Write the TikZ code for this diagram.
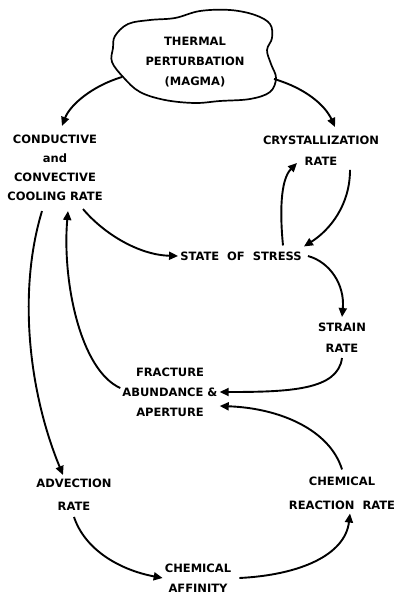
\documentclass[tikz,border=0pt]{standalone}
\usepackage{fontspec}
\setsansfont{DejaVu Sans}
\usepackage{tikz}
\usetikzlibrary{arrows.meta}

\begin{document}
\begin{tikzpicture}[x=1pt, y=-1pt,
  etiqueta/.style={font=\sffamily\bfseries\fontsize{11.5}{21}\selectfont, align=center, inner sep=2pt},
  flecha/.style={line width=1.9pt, -{Triangle[length=9pt,width=8pt]}}]
  \useasboundingbox (0,0) rectangle (398,592);

  % Perturbacion termica (nube)
  \draw[line width=1.7pt] plot[smooth cycle, tension=0.6] coordinates {
    (115,36) (128,24) (150,20) (175,18) (200,11) (230,10) (255,15) (270,24)
    (272,38) (267,50) (271,64) (276,78) (270,92) (250,99) (220,101) (195,103)
    (165,100) (140,92) (124,78) (112,62) (113,48)};
  \coordinate (bsw) at (122,77);
  \coordinate (bse) at (274,79);
  \node[etiqueta, font=\sffamily\bfseries\fontsize{11.5}{20}\selectfont] (magma) at (195,62) {THERMAL\\PERTURBATION\\(MAGMA)};

  % Etiquetas
  \node[etiqueta, font=\sffamily\bfseries\fontsize{11.5}{19}\selectfont] (cool) at (55,168) {CONDUCTIVE\\and\\CONVECTIVE\\COOLING RATE};
  \node[etiqueta] (cryst) at (321,151) {CRYSTALLIZATION\\RATE};
  \node[etiqueta] (stress) at (241,256) {STATE~~OF~~STRESS};
  \node[etiqueta] (strain) at (342,338) {STRAIN\\RATE};
  \node[etiqueta, font=\sffamily\bfseries\fontsize{11.5}{20}\selectfont] (fract) at (170,392) {FRACTURE\\ABUNDANCE \&\\APERTURE};
  \node[etiqueta, font=\sffamily\bfseries\fontsize{11.5}{23}\selectfont] (advec) at (74,495) {ADVECTION\\RATE};
  \node[etiqueta, font=\sffamily\bfseries\fontsize{11.5}{24}\selectfont] (react) at (342,493) {CHEMICAL\\REACTION~~RATE};
  \node[etiqueta, font=\sffamily\bfseries\fontsize{11.5}{20}\selectfont] (affin) at (198,578) {CHEMICAL\\AFFINITY};

  % Flechas desde la nube
  \draw[flecha] (bsw) .. controls (92,86) and (70,105) .. ([xshift=7,yshift=7]cool.north);
  \draw[flecha] (bse) .. controls (305,88) and (325,105) .. ([xshift=14,yshift=7]cryst.north);

  % Ciclo de esfuerzos
  \draw[flecha] ([xshift=28,yshift=-6]cool.south) .. controls (105,235) and (140,255) .. (stress.west);
  \draw[flecha] ([xshift=29,yshift=-2]cryst.south) .. controls (350,205) and (330,230) .. ([yshift=3]stress.north east);
  \draw[flecha] ([xshift=42,yshift=4]stress.north) .. controls (280,215) and (280,180) .. ([xshift=-24,yshift=5]cryst.south);
  \draw[flecha] ([xshift=4]stress.east) .. controls (330,262) and (345,285) .. ([yshift=4]strain.north);
  \draw[flecha] ([yshift=-3]strain.south) .. controls (338,390) and (290,392) .. (fract.east);
  \draw[flecha] ([yshift=4]fract.west) .. controls (80,370) and (62,280) .. ([xshift=13,yshift=-8]cool.south);

  % Ciclo quimico
  \draw[flecha] ([xshift=-13,yshift=-8]cool.south) .. controls (18,290) and (28,390) .. ([xshift=-11,yshift=2]advec.north);
  \draw[flecha] ([yshift=-4]advec.south) .. controls (85,550) and (120,570) .. (affin.west);
  \draw[flecha] ([xshift=6]affin.east) .. controls (300,575) and (345,555) .. ([xshift=8,yshift=-2]react.south);
  \draw[flecha] ([yshift=5]react.north) .. controls (330,430) and (280,408) .. ([yshift=-14]fract.east);
\end{tikzpicture}
\end{document}
